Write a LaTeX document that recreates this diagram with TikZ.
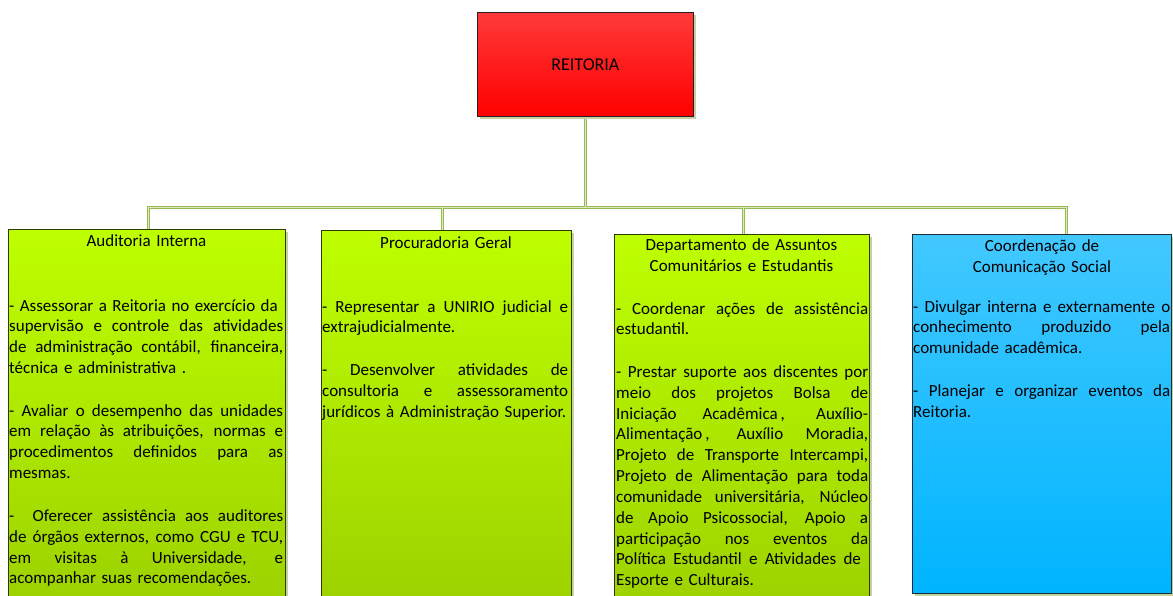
\documentclass[tikz,border=0pt]{standalone}
\usepackage{fontspec}
\setmainfont{Carlito}
\usetikzlibrary{shadows,backgrounds}

\definecolor{redtop}{RGB}{255,58,58}
\definecolor{redbot}{RGB}{255,0,0}
\definecolor{greentop}{RGB}{190,255,0}
\definecolor{greenbot}{RGB}{153,204,0}
\definecolor{bluetop}{RGB}{66,200,255}
\definecolor{bluebot}{RGB}{0,180,255}
\definecolor{greenedge}{RGB}{45,58,0}
\definecolor{blueedge}{RGB}{25,45,55}
\definecolor{redoutline}{RGB}{40,30,30}
\definecolor{shadowcol}{RGB}{195,210,160}
\definecolor{linkouter}{RGB}{150,185,80}
\definecolor{linkinner}{RGB}{222,234,196}

\newcommand\bodyfont{\fontsize{17}{20.8}\selectfont}
\newcommand\lw{100pt}
% justified line, and justified line that carries a trailing space
\newcommand\jl[1]{\leavevmode\hbox to \lw{\spaceskip=0.23em plus 2em\relax #1}\\}
\newcommand\jlt[1]{\leavevmode\hbox to \lw{\spaceskip=0.23em plus 2em\relax #1\ }\\}

\tikzset{
  unitbox/.style={draw, line width=0.8pt, anchor=north west, inner sep=0pt,
    drop shadow={shadow xshift=2.5pt, shadow yshift=-2.5pt, fill=shadowcol, opacity=1}},
  redbox/.style={unitbox, draw=redoutline, top color=redtop, bottom color=redbot,
    font=\fontsize{18}{22}\selectfont},
  greenbox/.style={unitbox, draw=greenedge, top color=greentop, bottom color=greenbot},
  bluebox/.style={unitbox, draw=blueedge, top color=bluetop, bottom color=bluebot},
  titletext/.style={anchor=base, inner sep=0pt, text width=#1, align=center, font=\bodyfont},
  bodytext/.style={anchor=base west, inner sep=0pt, text width=#1, align=left, font=\bodyfont,
    execute at begin node={\renewcommand\lw{#1}}},
  linkout/.style={draw=linkouter, line width=3pt, line cap=rect},
  linkin/.style={draw=linkinner, line width=1pt, line cap=rect},
}

\begin{document}
\begin{tikzpicture}[x=1pt,y=-1pt]
\useasboundingbox (0,0) rectangle (1173,596);
\clip (0,0) rectangle (1173,596);

% top unit
\node[redbox, minimum width=216pt, minimum height=104pt] (reit) at (477,12) {REITORIA};

% subordinate units
\node[greenbox, minimum width=277pt, minimum height=420pt] (audit) at (8,229) {};
\node[greenbox, minimum width=250pt, minimum height=420pt] (proc) at (321,230) {};
\node[greenbox, minimum width=255pt, minimum height=420pt] (dace) at (614,234) {};
\node[bluebox, minimum width=259pt, minimum height=359pt] (comso) at (912,234) {};

% connectors, drawn beneath the boxes
\coordinate (bus) at (585,208);
\coordinate (d1) at (148,208);
\coordinate (d2) at (442,208);
\coordinate (d3) at (743,208);
\coordinate (d4) at (1066,208);
\begin{scope}[on background layer]
\fill[white] (0,0) rectangle (1173,596);
\foreach \st in {linkout,linkin}
  \draw[\st] (reit.south) -- (reit.south |- bus)
             (d1) -- (d4)
             (d1) -- (d1 |- audit.north)
             (d2) -- (d2 |- proc.north)
             (d3) -- (d3 |- dace.north)
             (d4) -- (d4 |- comso.north);
\end{scope}

% Auditoria Interna
\node[titletext=277pt] (audittitle) at (146.5,247) {Auditoria Interna};
\node[bodytext=274pt] (auditbody) at (9,311) {%
\jlt{- Assessorar a Reitoria no exercício da}%
\jl{supervisão e controle das atividades}%
\jl{de administração contábil, financeira,}%
técnica e administrativa .\\[22pt]%
\jl{- Avaliar o desempenho das unidades}%
\jl{em relação às atribuições, normas e}%
\jl{procedimentos definidos para as}%
mesmas.\\[22pt]%
\jl{-\ \ Oferecer assistência aos auditores}%
\jl{de órgãos externos, como CGU e TCU,}%
\jl{em visitas à Universidade, e}%
acompanhar suas recomendações.};

% Procuradoria Geral
\node[titletext=250pt] (proctitle) at (446,248) {Procuradoria Geral};
\node[bodytext=246pt] (procbody) at (322,312) {%
\jl{- Representar a UNIRIO judicial e}%
extrajudicialmente.\\[22pt]%
\jl{- Desenvolver atividades de}%
\jl{consultoria e assessoramento}%
jurídicos à Administração Superior.};

% Departamento de Assuntos Comunitarios e Estudantis
\node[titletext=255pt] (dacetitle) at (741.5,251) {Departamento de Assuntos\\Comunitários e Estudantis};
\node[bodytext=252pt] (dacebody) at (616,314) {%
\jl{- Coordenar ações de assistência}%
estudantil.\\[22pt]%
\jl{- Prestar suporte aos discentes por}%
\jl{meio dos projetos Bolsa de}%
\jl{Iniciação Acadêmica\,, Auxílio-}%
\jl{Alimentação\,, Auxílio Moradia,}%
\jl{Projeto de Transporte Intercampi,}%
\jl{Projeto de Alimentação para toda}%
\jl{comunidade universitária, Núcleo}%
\jl{de Apoio Psicossocial, Apoio a}%
\jl{participação nos eventos da}%
\jlt{Política Estudantil e Atividades de}%
Esporte e Culturais.};

% Coordenacao de Comunicacao Social
\node[titletext=259pt] (comsotitle) at (1042,252) {Coordenação de\\Comunicação Social};
\node[bodytext=257pt] (comsobody) at (913,312) {%
\jl{- Divulgar interna e externamente o}%
\jl{conhecimento produzido pela}%
comunidade acadêmica.\\[22pt]%
\jl{- Planejar e organizar eventos da}%
Reitoria.};
\end{tikzpicture}
\end{document}
